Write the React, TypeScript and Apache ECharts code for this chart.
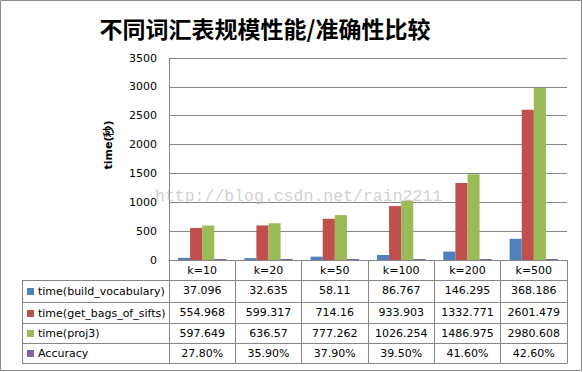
import React, { useEffect, useRef } from "react";
import * as echarts from "echarts";

const categories = ["k=10", "k=20", "k=50", "k=100", "k=200", "k=500"];
const seriesNames = ["time(build_vocabulary)", "time(get_bags_of_sifts)", "time(proj3)", "Accuracy"];
const buildVocabulary = [37.096, 32.635, 58.11, 86.767, 146.295, 368.186];
const getBagsOfSifts = [554.968, 599.317, 714.16, 933.903, 1332.771, 2601.479];
const proj3 = [597.649, 636.57, 777.262, 1026.254, 1486.975, 2980.608];
const accuracy = [0.278, 0.359, 0.379, 0.395, 0.416, 0.426];
const yTicks = { min: 0, max: 3500, interval: 500 };
const colors = ["#4F81BD", "#C0504D", "#9BBB59", "#8064A2"];

const fmtNum = (v: number) => String(v);
const fmtPct = (v: number) => (v * 100).toFixed(2) + "%";
const tableRows: string[][] = [
  buildVocabulary.map(fmtNum),
  getBagsOfSifts.map(fmtNum),
  proj3.map(fmtNum),
  accuracy.map(fmtPct),
];

export default function App() {
  const ref = useRef<HTMLDivElement>(null);
  useEffect(() => {
    if (!ref.current) return;
    const chart = echarts.init(ref.current, null, { renderer: "svg" });
    const gridLeft = 169;
    const gridRight = 567;
    const gridTop = 58;
    const zeroY = 260;
    const lineColor = "#868686";
    const font = "DejaVu Sans";
    const rowLines = [280, 302, 323, 343, 363];
    const headerOffsets = [0, 20, 42, 63, 83];
    const tickLens = [20, 22, 21, 20, 20];

    const xAxes: any[] = [
      {
        type: "category",
        data: categories,
        gridIndex: 0,
        position: "bottom",
        offset: 0,
        axisLine: { show: true, lineStyle: { color: lineColor, width: 1 } },
        axisTick: { show: true, length: tickLens[0], lineStyle: { color: lineColor } },
        axisLabel: { interval: 0, margin: 5, color: "#000", fontFamily: font, fontSize: 11 },
        splitLine: { show: false },
      },
    ];
    tableRows.forEach((row, i) => {
      xAxes.push({
        type: "category",
        data: categories,
        gridIndex: 0,
        position: "bottom",
        offset: headerOffsets[i + 1],
        axisLine: { show: true, lineStyle: { color: lineColor, width: 1 } },
        axisTick: { show: true, length: tickLens[i + 1], lineStyle: { color: lineColor } },
        axisLabel: {
          interval: 0,
          margin: 5,
          color: "#000",
          fontFamily: font,
          fontSize: 11,
          formatter: (_v: string, idx: number) => row[idx],
        },
        splitLine: { show: false },
      });
    });
    xAxes.push({
      type: "category",
      data: categories,
      gridIndex: 0,
      position: "bottom",
      offset: 103,
      axisLine: { show: true, lineStyle: { color: lineColor, width: 1 } },
      axisTick: { show: false },
      axisLabel: { show: false },
      splitLine: { show: false },
    });

    const legendGraphics: any[] = [];
    const colLeft = 22;
    for (let i = 0; i < rowLines.length; i++) {
      legendGraphics.push({
        type: "line",
        shape: { x1: colLeft, y1: rowLines[i] + 0.5, x2: gridLeft, y2: rowLines[i] + 0.5 },
        style: { stroke: lineColor, lineWidth: 1 },
      });
    }
    legendGraphics.push({
      type: "line",
      shape: { x1: colLeft + 0.5, y1: rowLines[0], x2: colLeft + 0.5, y2: rowLines[4] + 1 },
      style: { stroke: lineColor, lineWidth: 1 },
    });
    seriesNames.forEach((name, i) => {
      const cy = (rowLines[i] + rowLines[i + 1]) / 2 + 0.5;
      legendGraphics.push({
        type: "rect",
        shape: { x: 27, y: Math.round(cy - 3.5), width: 7, height: 7 },
        style: { fill: colors[i] },
      });
      legendGraphics.push({
        type: "text",
        x: 38,
        y: cy,
        style: {
          text: name,
          fill: "#000",
          font: `11px '${font}'`,
          verticalAlign: "middle",
          align: "left",
        },
      });
    });

    const option: any = {
      animation: false,
      backgroundColor: "#fff",
      title: {
        text: "不同词汇表规模性能/准确性比较",
        left: 260,
        top: 11,
        textAlign: "center",
        textStyle: {
          fontFamily: "Noto Sans CJK SC",
          fontWeight: "bold",
          fontSize: 23,
          color: "#000",
        },
      },
      grid: {
        left: gridLeft,
        right: 583 - gridRight,
        top: gridTop,
        bottom: 372 - zeroY,
        containLabel: false,
      },
      xAxis: xAxes,
      yAxis: {
        type: "value",
        min: yTicks.min,
        max: yTicks.max,
        interval: yTicks.interval,
        axisLine: { show: true, lineStyle: { color: lineColor } },
        axisTick: { show: false },
        axisLabel: {
          color: "#000",
          fontFamily: font,
          fontSize: 11,
          margin: 12,
          formatter: (v: number) => String(v),
        },
        splitLine: { show: true, lineStyle: { color: lineColor, width: 1 } },
      },
      series: [
        { name: seriesNames[0], type: "bar", data: buildVocabulary, itemStyle: { color: colors[0] }, barGap: "0%", barCategoryGap: "27%" },
        { name: seriesNames[1], type: "bar", data: getBagsOfSifts, itemStyle: { color: colors[1] }, barGap: "0%", barCategoryGap: "27%" },
        { name: seriesNames[2], type: "bar", data: proj3, itemStyle: { color: colors[2] }, barGap: "0%", barCategoryGap: "27%" },
        { name: seriesNames[3], type: "bar", data: accuracy, itemStyle: { color: colors[3] }, barGap: "0%", barCategoryGap: "27%", barMinHeight: 1 },
      ],
      graphic: [
        {
          type: "rect",
          shape: { x: 0.5, y: 0.5, width: 581, height: 370 },
          style: { fill: "none", stroke: "#8c8c8c", lineWidth: 1 },
          silent: true,
        },
        {
          type: "text",
          x: 108,
          y: 145,
          rotation: Math.PI / 2,
          style: {
            text: "time(秒)",
            fill: "#000",
            font: `bold 11px '${font}'`,
            align: "center",
            verticalAlign: "middle",
          },
        },
        ...legendGraphics,
        {
          type: "text",
          x: 155,
          y: 196,
          z: 100,
          style: {
            text: "http://blog.csdn.net/rain2211",
            fill: "rgba(170,170,170,0.55)",
            font: "16.5px 'Liberation Mono'",
            align: "left",
            verticalAlign: "middle",
          },
        },
      ],
    };
    chart.setOption(option);
    return () => chart.dispose();
  }, []);
  return (
    <div
      ref={ref}
      style={{ position: "fixed", left: 0, top: 0, width: 583, height: 372, background: "#fff" }}
    />
  );
}
